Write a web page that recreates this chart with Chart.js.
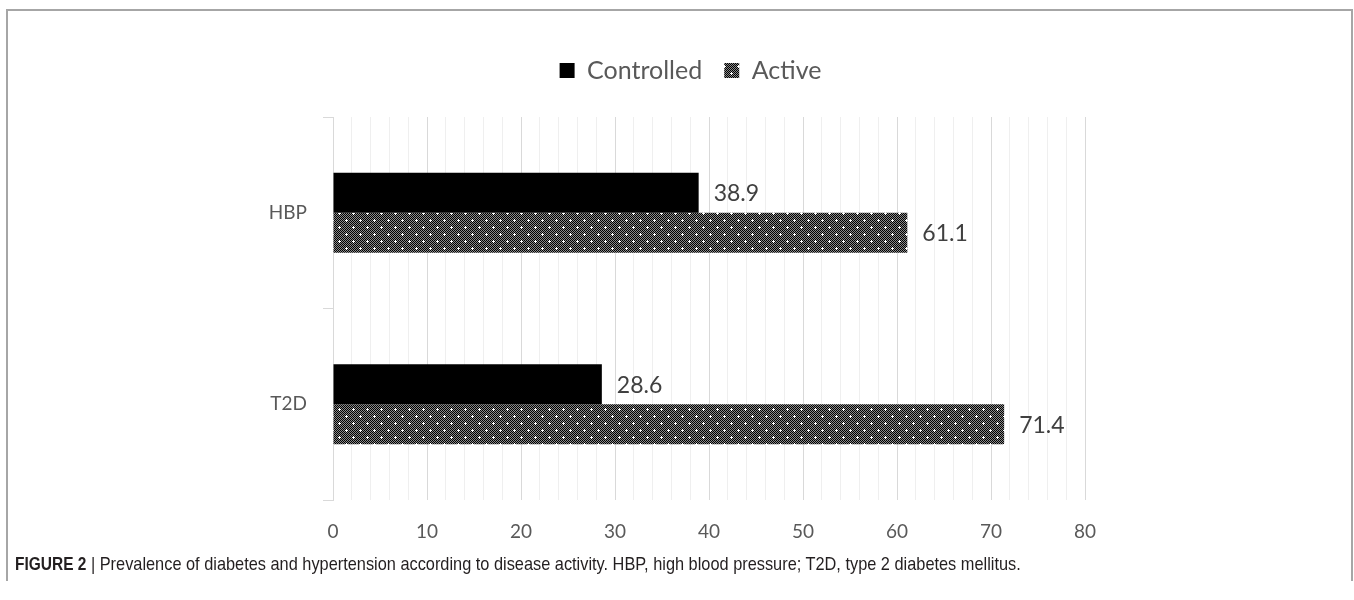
<!DOCTYPE html>
<html>
<head>
<meta charset="utf-8">
<script src="https://cdn.jsdelivr.net/npm/chart.js@4"></script>
<style>
  body { margin: 0; background: #fff; width: 1354px; height: 600px; overflow: hidden; position: relative; }
  #frame { position: absolute; left: 6px; top: 9px; width: 1343px; height: 570px;
           border: 2px solid #a6a6a6; border-bottom: none; }
  #chart { position: absolute; left: 0; top: 0; }
  #caption { position: absolute; left: 15px; top: 553px; font-family: "Liberation Sans", sans-serif;
             font-size: 19px; color: #231f20; white-space: nowrap; transform: scaleX(0.86); transform-origin: 0 0; }
  #caption b { font-size: 18px; }
</style>
</head>
<body>
<div id="frame"></div>
<canvas id="chart" width="1354" height="560"></canvas>
<div id="caption"><b>FIGURE 2</b> | Prevalence of diabetes and hypertension according to disease activity. HBP, high blood pressure; T2D, type 2 diabetes mellitus.</div>
<script>
const categories = ['HBP', 'T2D'];
const controlled = [38.9, 28.6];
const active = [61.1, 71.4];
const xTicks = [0, 10, 20, 30, 40, 50, 60, 70, 80];

// dotted checker pattern used by Excel for the "Active" series
function makePattern() {
  const c = document.createElement('canvas');
  c.width = 14;
  c.height = 14;
  const g = c.getContext('2d');
  g.fillStyle = '#8a8a8a';
  g.fillRect(0, 0, 14, 14);
  g.fillStyle = '#000';
  for (let y = 0; y < 14; y++) {
    for (let x = 0; x < 14; x++) {
      if ((x + y) % 2 === 0) g.fillRect(x, y, 1, 1);
    }
  }
  g.fillStyle = '#fff';
  [[3, 3], [10, 10]].forEach(function(p) {
    g.fillRect(p[0] - 1, p[1], 3, 1);
    g.fillRect(p[0], p[1] - 1, 1, 3);
  });
  return g.createPattern(c, 'repeat');
}

const ctx = document.getElementById('chart').getContext('2d');
const activePattern = makePattern();

const valueLabels = {
  id: 'valueLabels',
  afterDatasetsDraw: function(chart) {
    const c = chart.ctx;
    c.save();
    c.font = '23px Lato';
    c.fillStyle = '#404040';
    c.textBaseline = 'middle';
    c.textAlign = 'left';
    chart.data.datasets.forEach(function(ds, i) {
      chart.getDatasetMeta(i).data.forEach(function(bar, j) {
        c.fillText(ds.data[j].toFixed(1), bar.x + 15, bar.y + 1);
      });
    });
    c.restore();
  }
};

// push the plot area down below the legend, and centre the legend over the figure
const legendPlace = {
  id: 'legendPlace',
  beforeInit: function(chart) {
    const fit = chart.legend.fit;
    chart.legend.fit = function() {
      fit.bind(chart.legend)();
      this.height += 24;
    };
  },
  afterLayout: function(chart) {
    chart.legend.left += 148;
    chart.legend.right += 148;
  }
};

new Chart(ctx, {
  type: 'bar',
  data: {
    labels: categories,
    datasets: [
      { label: 'Controlled', data: controlled, backgroundColor: '#000' },
      { label: 'Active', data: active, backgroundColor: activePattern }
    ]
  },
  options: {
    indexAxis: 'y',
    responsive: false,
    animation: false,
    layout: { padding: { left: 0, right: 269, top: 36, bottom: 0 } },
    datasets: { bar: { barPercentage: 1, categoryPercentage: 0.418 } },
    plugins: {
      legend: {
        position: 'top',
        labels: {
          font: { family: 'Lato', size: 25 },
          color: '#595959',
          boxWidth: 15,
          boxHeight: 15,
          padding: 22
        }
      },
      tooltip: { enabled: false }
    },
    scales: {
      x: {
        min: 0,
        max: 80,
        afterFit: function(scale) { scale.height = 60; },
        afterBuildTicks: function(scale) {
          const t = [];
          for (let v = 0; v <= 80; v += 2) t.push({ value: v });
          scale.ticks = t;
        },
        ticks: {
          autoSkip: false,
          maxRotation: 0,
          padding: 20,
          font: { family: 'Lato', size: 19 },
          color: '#595959',
          callback: function(v) { return xTicks.indexOf(v) >= 0 ? String(v) : ''; }
        },
        grid: {
          drawTicks: false,
          color: function(c) { return c.tick && c.tick.value % 10 === 0 ? '#d9d9d9' : '#efefef'; },
          lineWidth: 1
        },
        border: { display: false }
      },
      y: {
        afterFit: function(scale) { scale.width = 333; },
        ticks: {
          padding: 16,
          font: { family: 'Lato', size: 19 },
          color: '#595959'
        },
        grid: {
          offset: true,
          drawOnChartArea: false,
          drawTicks: true,
          tickLength: 10,
          color: '#d9d9d9'
        },
        border: { display: true, color: '#d9d9d9', width: 1 }
      }
    }
  },
  plugins: [valueLabels, legendPlace]
});
</script>
</body>
</html>
